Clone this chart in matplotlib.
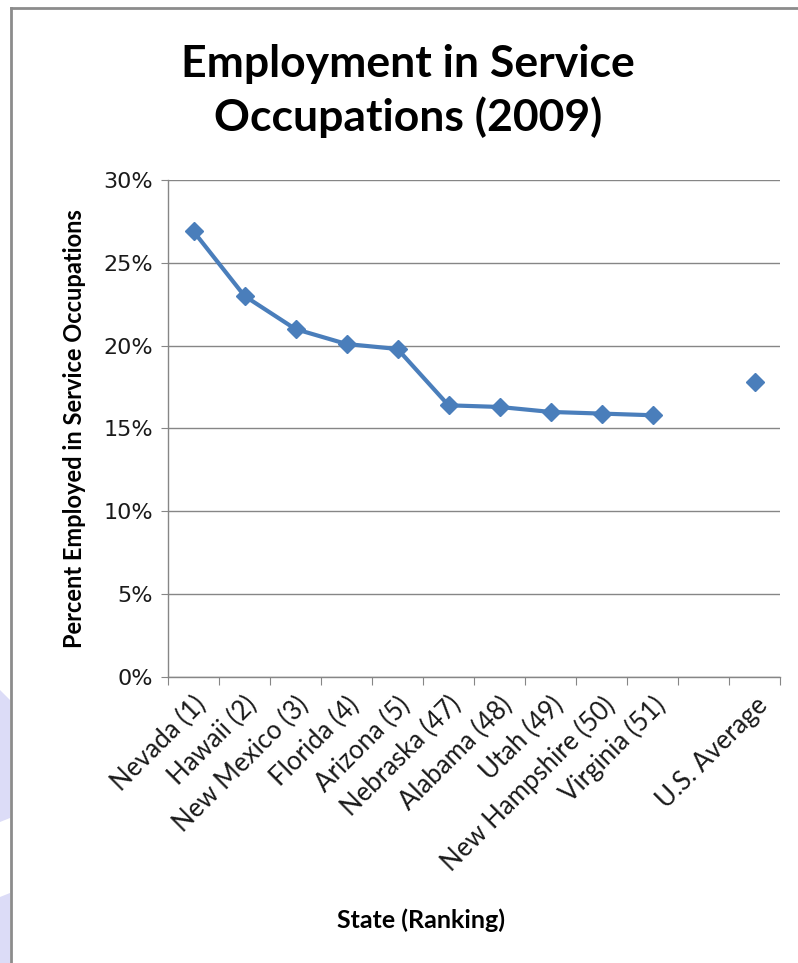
import matplotlib.pyplot as plt
from matplotlib.lines import Line2D
from matplotlib.patches import Polygon
from matplotlib.ticker import MultipleLocator, FuncFormatter

# Share of workers in service occupations, 2009 (percent)
states = ['Nevada (1)', 'Hawaii (2)', 'New Mexico (3)', 'Florida (4)', 'Arizona (5)',
          'Nebraska (47)', 'Alabama (48)', 'Utah (49)', 'New Hampshire (50)', 'Virginia (51)']
state_pct = [26.9, 23.0, 21.0, 20.1, 19.8, 16.4, 16.3, 16.0, 15.9, 15.8]
us_label = 'U.S. Average'
us_pct = 17.8

labels = states + ['', us_label]
blue = '#4a7ebb'
grey = '#868686'
txt_font = ['Lato', 'DejaVu Sans']

W, H = 798, 963
fig = plt.figure(figsize=(W / 100, H / 100), dpi=100)

# slide background shapes and chart frame
for pts in ([(0, 690), (10, 700), (10, 818), (0, 822)], [(0, 897), (10, 893), (10, 963), (0, 963)]):
    fig.add_artist(Polygon([(x / W, 1 - y / H) for x, y in pts], closed=True,
                           transform=fig.transFigure, color='#dcdcf7', lw=0))
fig.add_artist(Line2D([11 / W, 11 / W], [0, 1 - 8 / H], transform=fig.transFigure, color='#8c8c8c', lw=2))
fig.add_artist(Line2D([11 / W, 1], [1 - 8 / H, 1 - 8 / H], transform=fig.transFigure, color='#8c8c8c', lw=2))

ax = fig.add_axes([168 / W, 1 - 677 / H, (780 - 168) / W, (677 - 180) / H])

x_states = range(len(states))
ax.plot(x_states, state_pct, color=blue, lw=3, marker='D', ms=9,
        markeredgecolor=blue, solid_joinstyle='round')
ax.plot([len(labels) - 1], [us_pct], color=blue, lw=0, marker='D', ms=9)

ax.set_xlim(-0.5, len(labels) - 0.5)
ax.set_ylim(0, 30)
ax.yaxis.set_major_locator(MultipleLocator(5))
ax.yaxis.set_major_formatter(FuncFormatter(lambda v, p: f'{v:.0f}%'))
ax.grid(axis='y', color=grey, lw=1)
ax.set_axisbelow(True)

for s in ('top', 'right'):
    ax.spines[s].set_visible(False)
for s in ('left', 'bottom'):
    ax.spines[s].set_color(grey)
    ax.spines[s].set_linewidth(1)

# category ticks sit between the markers
ax.set_xticks([i - 0.5 for i in range(len(labels) + 1)])
ax.set_xticklabels([])
ax.set_xticks(range(len(labels)), labels, minor=True)
ax.tick_params(axis='x', which='major', length=6, color=grey, direction='out')
ax.tick_params(axis='x', which='minor', length=0, pad=11)
for t in ax.get_xticklabels(minor=True):
    t.set_rotation(45)
    t.set_ha('right')
    t.set_va('top')
    t.set_rotation_mode('anchor')
    t.set_fontsize(18.5)
    t.set_family(txt_font)
    t.set_color('#1a1a1a')
ax.tick_params(axis='y', length=5, color=grey, labelsize=16, pad=6, labelcolor='#1a1a1a')

ax.set_ylabel('Percent Employed in Service Occupations', fontsize=17, fontweight='bold',
              family=txt_font, labelpad=12)
fig.text(421 / W, 1 - 920 / H, 'State (Ranking)', ha='center', va='center',
         fontsize=18, fontweight='bold', family=txt_font)
fig.text(408 / W, 1 - 91 / H, 'Employment in Service\nOccupations (2009)', ha='center', va='center',
         fontsize=32, fontweight='bold', family=txt_font, linespacing=1.35)

fig.savefig('out.png', dpi=100, facecolor='white')
